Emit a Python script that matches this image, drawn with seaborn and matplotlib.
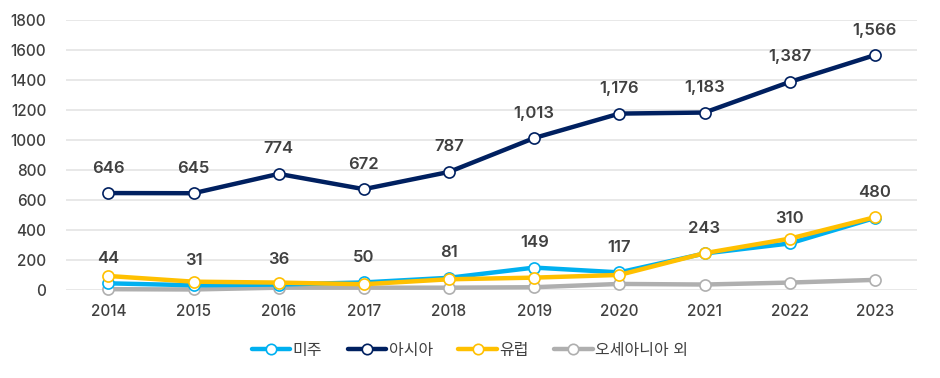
import numpy as np
import matplotlib
matplotlib.use("Agg")
import matplotlib.pyplot as plt
from matplotlib.lines import Line2D
import pandas as pd
import seaborn as sns

# data
years = [2014, 2015, 2016, 2017, 2018, 2019, 2020, 2021, 2022, 2023]
americas = [44, 31, 36, 50, 81, 149, 117, 243, 310, 480]
asia = [646, 645, 774, 672, 787, 1013, 1176, 1183, 1387, 1566]
europe = [93, 55, 49, 38, 71, 82, 100, 245, 342, 485]
oceania = [5, 3, 15, 15, 15, 18, 40, 36, 49, 67]

names = ["미주", "아시아", "유럽", "오세아니아 외"]
colors = {"미주": "#00B0F0", "아시아": "#002060", "유럽": "#FFC000", "오세아니아 외": "#AFAFAF"}

df = pd.DataFrame({"year": [str(y) for y in years],
                   "미주": americas, "아시아": asia, "유럽": europe, "오세아니아 외": oceania})
long = df.melt(id_vars="year", var_name="region", value_name="value")

sns.set_theme(style="white")
plt.rcParams["font.family"] = ["Inter", "Noto Sans CJK KR", "DejaVu Sans"]

fig = plt.figure(figsize=(9.4, 3.78), dpi=100)
ax = fig.add_axes([0.070, 0.233, 0.906, 0.714])

# draw order: grey, blue, yellow, navy on top
for i, name in enumerate(["오세아니아 외", "미주", "유럽", "아시아"]):
    sub = long[long["region"] == name]
    sns.lineplot(data=sub, x="year", y="value", ax=ax, color=colors[name],
                 linewidth=3.2, marker="o", markersize=8, markerfacecolor="white",
                 markeredgecolor=colors[name], markeredgewidth=1.2,
                 sort=False, clip_on=False, zorder=3 + i)

ax.set_xlim(-0.5, len(years) - 0.5)
ax.set_ylim(0, 1800)
ax.set_yticks(range(0, 1801, 200))
ax.grid(axis="y", color="#E4E4E4", linewidth=1.2, zorder=0)
ax.set_axisbelow(True)
for s in ax.spines.values():
    s.set_visible(False)
ax.set_xlabel("")
ax.set_ylabel("")
ax.tick_params(axis="y", labelsize=11, colors="#404040", pad=14, length=0)
ax.tick_params(axis="x", labelsize=11, colors="#404040", pad=10, length=0)
for lab in ax.get_xticklabels() + ax.get_yticklabels():
    lab.set_fontweight("medium")

# value labels
for series in (asia, americas):
    for i, v in enumerate(series):
        ax.annotate(f"{v:,}", (i, v), xytext=(0, 18), textcoords="offset points",
                    ha="center", va="center", fontsize=12, fontweight="semibold",
                    color="#404040")

handles = [Line2D([0], [0], color=colors[n], linewidth=3.2, marker="o", markersize=7.5,
                  markerfacecolor="white", markeredgecolor=colors[n], markeredgewidth=1.2)
           for n in names]
fig.legend(handles, names, loc="center", bbox_to_anchor=(0.5, 0.074), ncol=4,
           frameon=False, handlelength=2.4, handletextpad=0.15,
           columnspacing=1.6, labelcolor="#404040", prop={"size": 11.5})

fig.savefig("out.png", dpi=100)
